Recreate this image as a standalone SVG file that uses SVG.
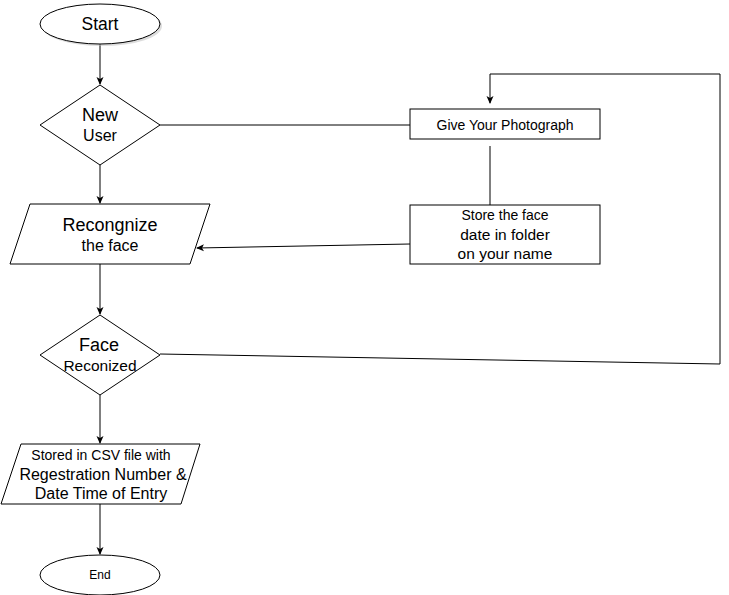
<svg xmlns="http://www.w3.org/2000/svg" width="729" height="595" viewBox="0 0 729 595">
<style>
.s{fill:#fff;stroke:#000;stroke-width:1}
.c{fill:none;stroke:#000;stroke-width:1}
text{font-family:"Liberation Sans",Arial,sans-serif;fill:#000;text-anchor:middle}
</style>
<defs>
<marker id="a" markerWidth="8" markerHeight="8" refX="7" refY="4" orient="auto" markerUnits="userSpaceOnUse">
<path d="M0,0.5 L8,4 L0,7.5 L2,4 Z" fill="#000"/>
</marker>
</defs>
<rect width="729" height="595" fill="#fff"/>
<g id="connectors">
<line class="c" x1="100" y1="44" x2="100" y2="84" marker-end="url(#a)"/>
<line class="c" x1="160" y1="125" x2="410" y2="125"/>
<line class="c" x1="490" y1="146" x2="490" y2="205"/>
<line class="c" x1="410" y1="244" x2="197" y2="248" marker-end="url(#a)"/>
<line class="c" x1="100" y1="165" x2="100" y2="203" marker-end="url(#a)"/>
<line class="c" x1="100" y1="264" x2="100" y2="314" marker-end="url(#a)"/>
<polyline class="c" points="160,354 720,364 720,74 490,74 490,103" marker-end="url(#a)"/>
<line class="c" x1="100" y1="395" x2="100" y2="443" marker-end="url(#a)"/>
<line class="c" x1="100" y1="504" x2="100" y2="554" marker-end="url(#a)"/>
</g>
<g id="start">
<ellipse cx="102" cy="26" rx="60" ry="20" fill="#bbb" opacity="0.5"/>
<ellipse class="s" cx="100" cy="24" rx="60" ry="20"/>
<text x="100" y="30" font-size="17.5">Start</text>
</g>
<g id="new-user">
<polygon class="s" points="100,85 160,125 100,165 40,125"/>
<text x="100" y="121" font-size="18">New</text>
<text x="100" y="141" font-size="16">User</text>
</g>
<g id="give-photo">
<rect class="s" x="410" y="109" width="190" height="30"/>
<text x="505" y="130" font-size="14">Give Your Photograph</text>
</g>
<g id="store-face">
<rect class="s" x="410" y="205" width="190" height="59"/>
<text x="505" y="220" font-size="14">Store the face</text>
<text x="505" y="240" font-size="15.5">date in folder</text>
<text x="505" y="259" font-size="15.5">on your name</text>
</g>
<g id="recognize">
<polygon class="s" points="30,204 210,204 190,264 10,264"/>
<text x="110" y="231" font-size="18">Recongnize</text>
<text x="110" y="251" font-size="16">the face</text>
</g>
<g id="face-recognized">
<polygon class="s" points="100,315 160,355 100,395 40,355"/>
<text x="99" y="351" font-size="18">Face</text>
<text x="100" y="371" font-size="15.5">Reconized</text>
</g>
<g id="stored-csv">
<polygon class="s" points="21,444 200,444 181,504 1,504"/>
<text x="101" y="460" font-size="14">Stored in CSV file with</text>
<text x="103" y="480" font-size="16">Regestration Number &amp;</text>
<text x="101" y="499" font-size="16">Date Time of Entry</text>
</g>
<g id="end">
<ellipse class="s" cx="100" cy="575" rx="60" ry="20"/>
<text x="100" y="579" font-size="12">End</text>
</g>
</svg>
